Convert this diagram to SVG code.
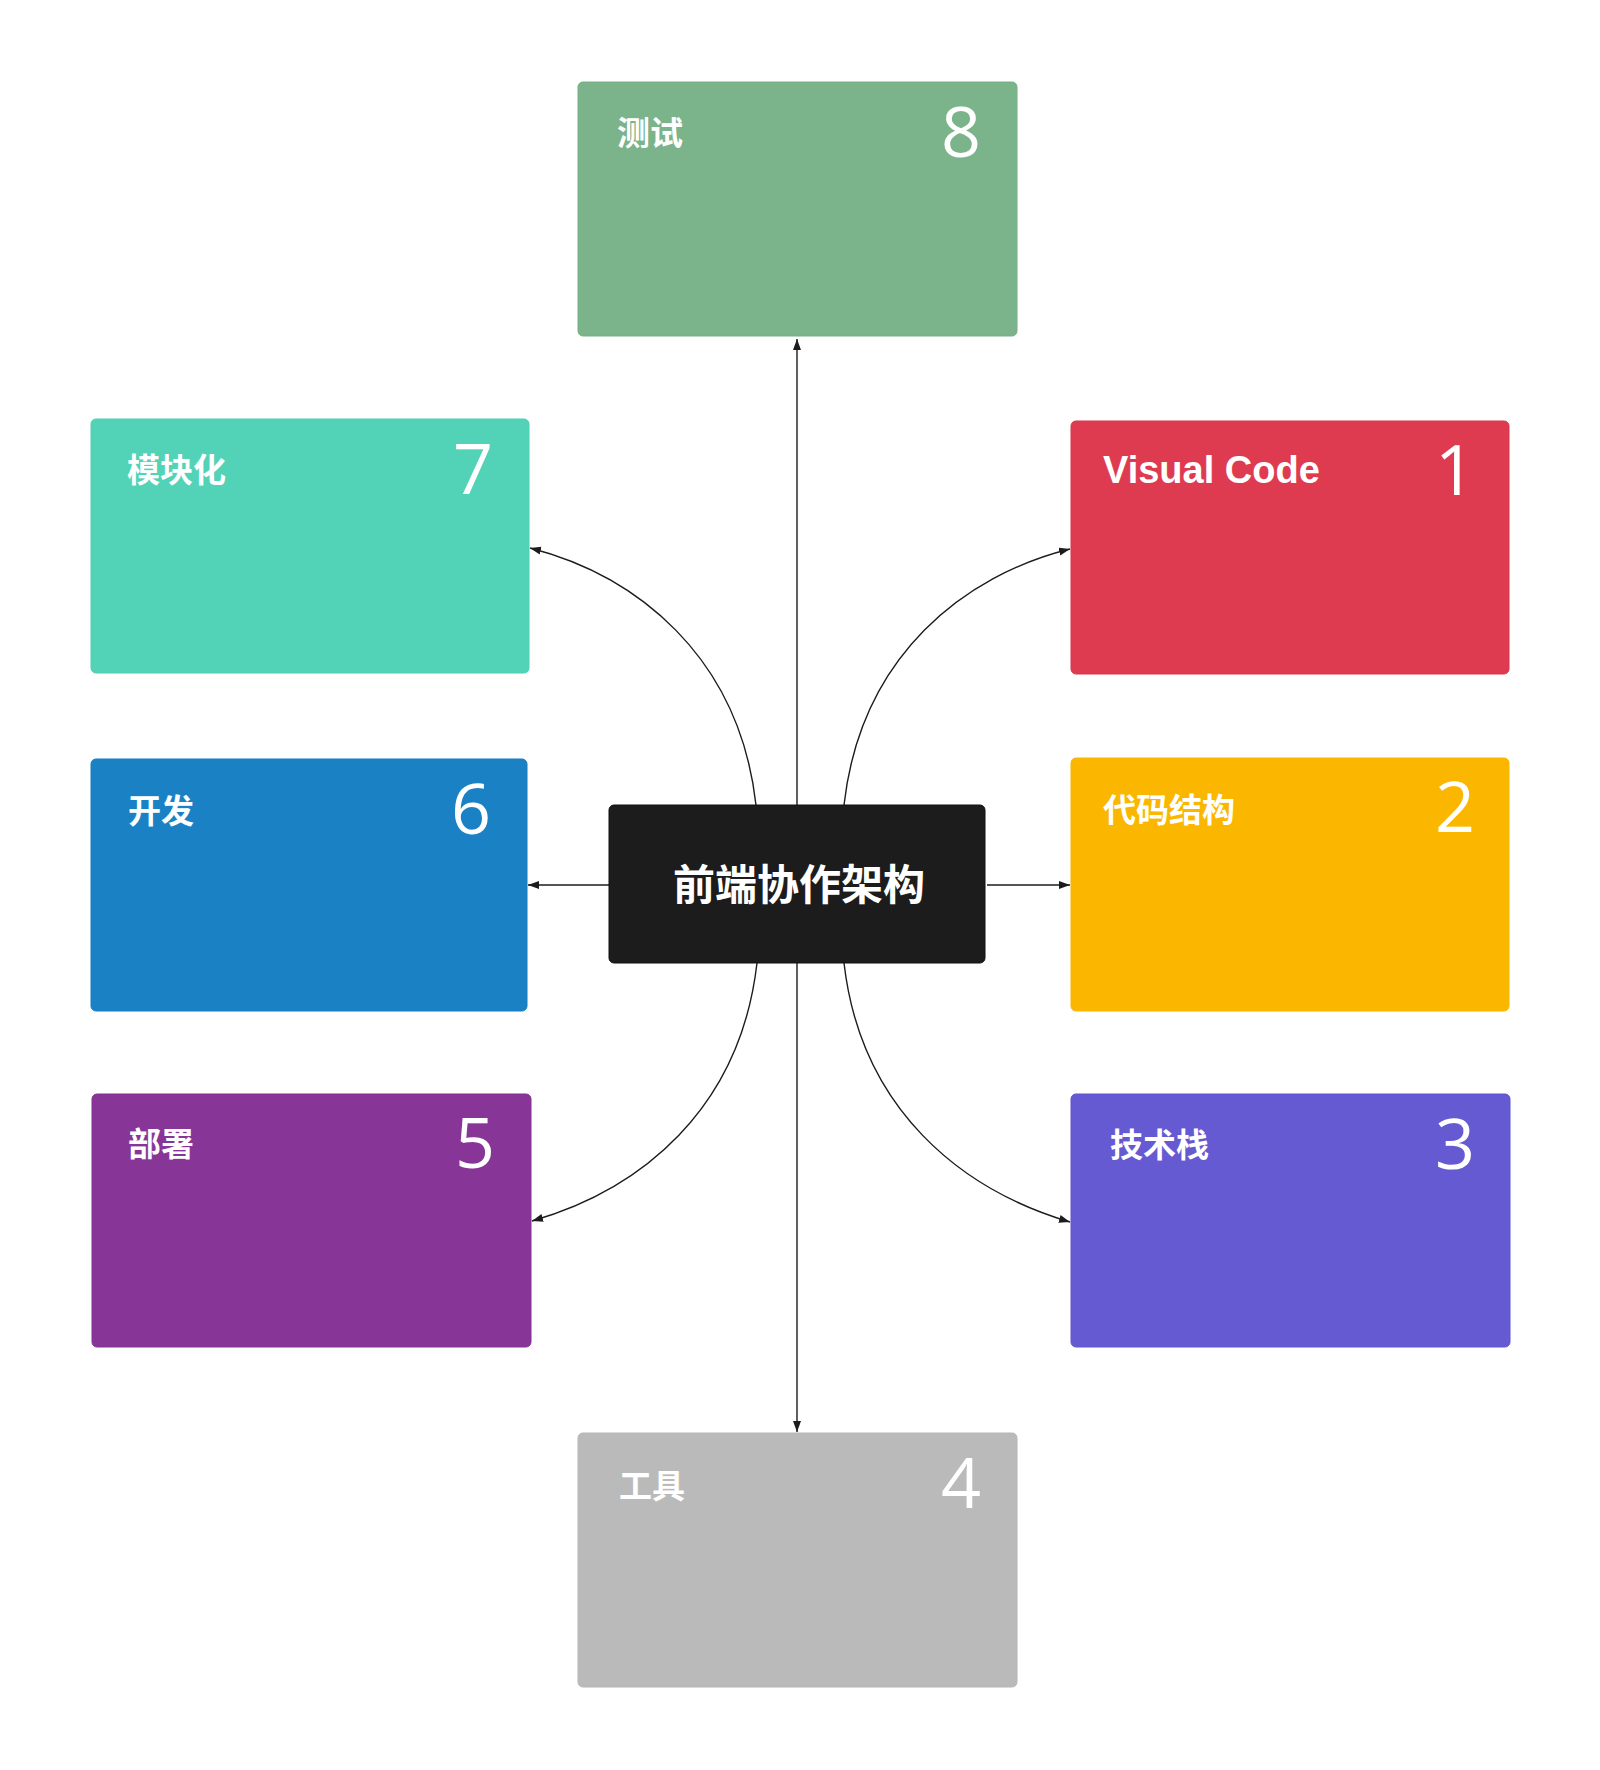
<svg xmlns="http://www.w3.org/2000/svg" width="1600" height="1770" viewBox="0 0 1600 1770">
  <defs>
    <marker id="arrow" markerUnits="userSpaceOnUse" markerWidth="12" markerHeight="9" refX="11" refY="4" orient="auto">
      <path d="M0,0 L11,4 L0,8 Z" fill="#1c1c1c"/>
    </marker>
    <style>
      .box { stroke-width: 1; }
      .lbl { font-family: "Noto Sans CJK SC", "Liberation Sans", sans-serif; font-weight: 700; font-size: 33px; fill: #ffffff; }
      .en { font-family: "Liberation Sans", Arial, sans-serif; font-weight: 700; font-size: 38px; fill: #ffffff; }
      .num { font-family: "Open Sans", "Liberation Sans", sans-serif; font-weight: 400; font-size: 70px; fill: #ffffff; text-anchor: end; }
      .center { font-family: "Noto Sans CJK SC", sans-serif; font-weight: 700; font-size: 42px; fill: #ffffff; text-anchor: middle; }
      .conn { fill: none; stroke: #1c1c1c; stroke-width: 1.4; marker-end: url(#arrow); }
    </style>
  </defs>
  <rect width="1600" height="1770" fill="#ffffff"/>

  <g id="connectors">
    <path class="conn" d="M797,805 L797,339"/>
    <path class="conn" d="M797,963 L797,1432"/>
    <path class="conn" d="M609,885 L528,885"/>
    <path class="conn" d="M987,885 L1070,885"/>
    <path class="conn" d="M756,805 C739,655 635,575 530,548"/>
    <path class="conn" d="M844,805 C861,655 965,575 1070,549"/>
    <path class="conn" d="M757,963 C740,1110 640,1190 532,1221"/>
    <path class="conn" d="M844,963 C861,1110 962,1190 1070,1222"/>
  </g>

  <g id="node-center">
    <rect x="609" y="805" width="376" height="158" rx="5" fill="#1c1c1c" stroke="#111111" stroke-width="1"/>
    <text class="center" x="799" y="900">前端协作架构</text>
  </g>

  <g id="node-8">
    <rect class="box" x="578" y="82" width="439" height="254" rx="5" fill="#7bb38a" stroke="#76b086"/>
    <text class="lbl" x="617" y="145">测试</text>
    <text class="num" x="981" y="157">8</text>
  </g>

  <g id="node-1">
    <rect class="box" x="1071" y="421" width="438" height="253" rx="5" fill="#de3b50" stroke="#d9364c"/>
    <text class="en" x="1103" y="483">Visual Code</text>
    <text class="num" x="1475" y="495">1</text>
  </g>

  <g id="node-2">
    <rect class="box" x="1071" y="758" width="438" height="253" rx="5" fill="#fbb700" stroke="#f9b600"/>
    <text class="lbl" x="1103" y="822">代码结构</text>
    <text class="num" x="1475" y="832">2</text>
  </g>

  <g id="node-3">
    <rect class="box" x="1071" y="1094" width="439" height="253" rx="5" fill="#655ad2" stroke="#5f54cf"/>
    <text class="lbl" x="1110" y="1157">技术栈</text>
    <text class="num" x="1475" y="1169">3</text>
  </g>

  <g id="node-4">
    <rect class="box" x="578" y="1433" width="439" height="254" rx="5" fill="#bababa" stroke="#b6b6b6"/>
    <text class="lbl" x="619" y="1498">工具</text>
    <text class="num" x="981" y="1508">4</text>
  </g>

  <g id="node-5">
    <rect class="box" x="92" y="1094" width="439" height="253" rx="5" fill="#873597" stroke="#823292"/>
    <text class="lbl" x="128" y="1156">部署</text>
    <text class="num" x="495" y="1168">5</text>
  </g>

  <g id="node-6">
    <rect class="box" x="91" y="759" width="436" height="252" rx="5" fill="#1a82c4" stroke="#157fc2"/>
    <text class="lbl" x="128" y="823">开发</text>
    <text class="num" x="491" y="834">6</text>
  </g>

  <g id="node-7">
    <rect class="box" x="91" y="419" width="438" height="254" rx="5" fill="#52d3b7" stroke="#4fd0b4"/>
    <text class="lbl" x="127" y="482">模块化</text>
    <text class="num" x="493" y="494">7</text>
  </g>
</svg>
